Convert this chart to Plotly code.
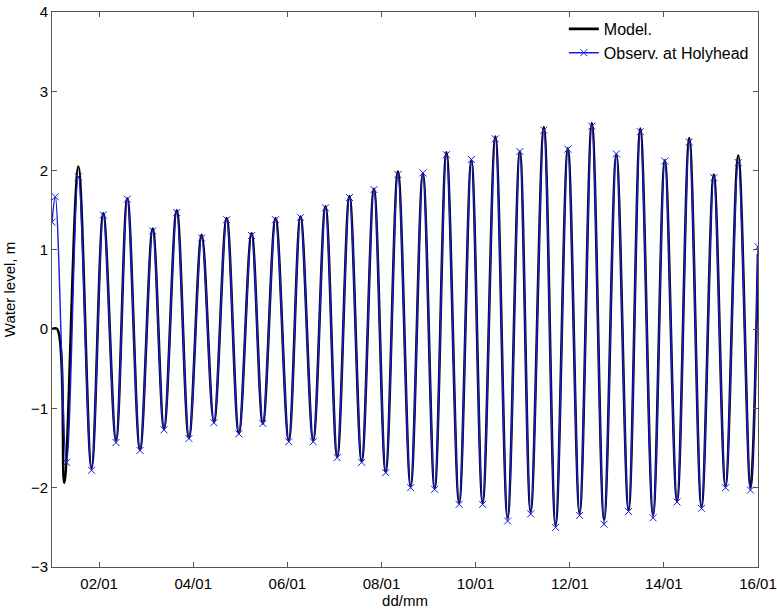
import plotly.graph_objects as go

# ---- data (decimal day of January, water level in m) ----
model_day = [1.00, 1.11, 1.26, 1.56, 1.84, 2.09, 2.36, 2.60, 2.87, 3.14, 3.38, 3.65, 3.91, 4.18,
             4.44, 4.71, 4.97, 5.24, 5.48, 5.75, 6.03, 6.28, 6.55, 6.81, 7.06, 7.32, 7.58, 7.84,
             8.09, 8.35, 8.62, 8.88, 9.13, 9.38, 9.65, 9.91, 10.15, 10.42, 10.68, 10.94, 11.17,
             11.45, 11.70, 11.96, 12.21, 12.47, 12.73, 12.99, 13.25, 13.50, 13.77, 14.02, 14.28,
             14.54, 14.80, 15.06, 15.31, 15.58, 15.84, 16.00]
model_level = [0.00, 0.00, -1.94, 2.05, -1.75, 1.46, -1.40, 1.65, -1.52, 1.27, -1.25, 1.50, -1.37, 1.19,
               -1.17, 1.40, -1.31, 1.21, -1.19, 1.40, -1.40, 1.42, -1.40, 1.55, -1.61, 1.68, -1.67, 1.77,
               -1.80, 1.99, -1.98, 1.96, -2.01, 2.23, -2.19, 2.13, -2.19, 2.43, -2.38, 2.24, -2.30,
               2.55, -2.47, 2.28, -2.32, 2.60, -2.40, 2.20, -2.28, 2.53, -2.34, 2.13, -2.17,
               2.41, -2.24, 1.95, -1.98, 2.19, -2.00, 0.95]

obs_day = [1.00, 1.07, 1.31, 1.56, 1.84, 2.09, 2.36, 2.60, 2.87, 3.14, 3.38, 3.65, 3.91, 4.18,
           4.44, 4.71, 4.97, 5.24, 5.48, 5.75, 6.03, 6.28, 6.55, 6.81, 7.06, 7.32, 7.58, 7.84,
           8.09, 8.35, 8.62, 8.88, 9.13, 9.38, 9.65, 9.91, 10.15, 10.42, 10.68, 10.94, 11.17,
           11.45, 11.70, 11.96, 12.21, 12.47, 12.73, 12.99, 13.25, 13.50, 13.77, 14.02, 14.28,
           14.54, 14.80, 15.06, 15.31, 15.58, 15.84, 16.00]
obs_level = [1.35, 1.67, -1.68, 1.92, -1.78, 1.44, -1.43, 1.64, -1.53, 1.24, -1.27, 1.47, -1.38, 1.15,
             -1.18, 1.38, -1.32, 1.18, -1.19, 1.38, -1.42, 1.41, -1.42, 1.53, -1.62, 1.66, -1.68, 1.76,
             -1.81, 1.95, -2.00, 1.97, -2.02, 2.20, -2.21, 2.14, -2.21, 2.40, -2.42, 2.24, -2.33,
             2.51, -2.50, 2.27, -2.35, 2.56, -2.46, 2.21, -2.30, 2.49, -2.38, 2.12, -2.18,
             2.36, -2.26, 1.91, -2.00, 2.10, -2.03, 1.04]

tick_days = [2, 4, 6, 8, 10, 12, 14, 16]
tick_labels = ["02/01", "04/01", "06/01", "08/01", "10/01", "12/01", "14/01", "16/01"]
y_ticks = [-3, -2, -1, 0, 1, 2, 3, 4]

FONT = "Liberation Sans, Arial, Helvetica, sans-serif"
BLUE = "#1a1ad8"

fig = go.Figure()
fig.add_trace(go.Scatter(
    x=model_day, y=model_level, name="Model.", mode="lines",
    line=dict(color="black", width=2.6, shape="spline", smoothing=1.0),
))
fig.add_trace(go.Scatter(
    x=obs_day, y=obs_level, name="Observ. at Holyhead", mode="lines+markers",
    line=dict(color=BLUE, width=1.4, shape="spline", smoothing=1.0),
    marker=dict(symbol="x-thin", size=7, line=dict(color=BLUE, width=1)),
))

axis_common = dict(
    showline=True, linecolor="#555555", linewidth=1, mirror="allticks",
    ticks="inside", ticklen=5, tickcolor="#555555", showgrid=False, zeroline=False,
    automargin=False, ticklabeloverflow="allow",
    tickfont=dict(family=FONT, size=15, color="black"),
)

fig.update_layout(
    template="none",
    width=777, height=614,
    margin=dict(l=52, r=19, t=12, b=47),
    paper_bgcolor="white", plot_bgcolor="white",
    font=dict(family=FONT, size=15, color="black"),
    showlegend=True,
    legend=dict(x=0.725, y=1.0, xanchor="left", yanchor="top",
                bgcolor="rgba(255,255,255,0)", borderwidth=0,
                font=dict(family=FONT, size=16), tracegroupgap=0),
    xaxis=dict(range=[1, 16], tickmode="array", tickvals=tick_days, ticktext=tick_labels,
               ticklabelstandoff=3,
               title=dict(text="dd/mm", standoff=3, font=dict(family=FONT, size=15)),
               **axis_common),
    yaxis=dict(range=[-3, 4], tickmode="array", tickvals=y_ticks,
               title=dict(text="Water level, m", standoff=11, font=dict(family=FONT, size=15)),
               **axis_common),
)

# remove the page's default body margin so the figure fills the window exactly
fig.write_html("out.html", config={"displayModeBar": False},
               post_script="document.body.style.margin='0';")
